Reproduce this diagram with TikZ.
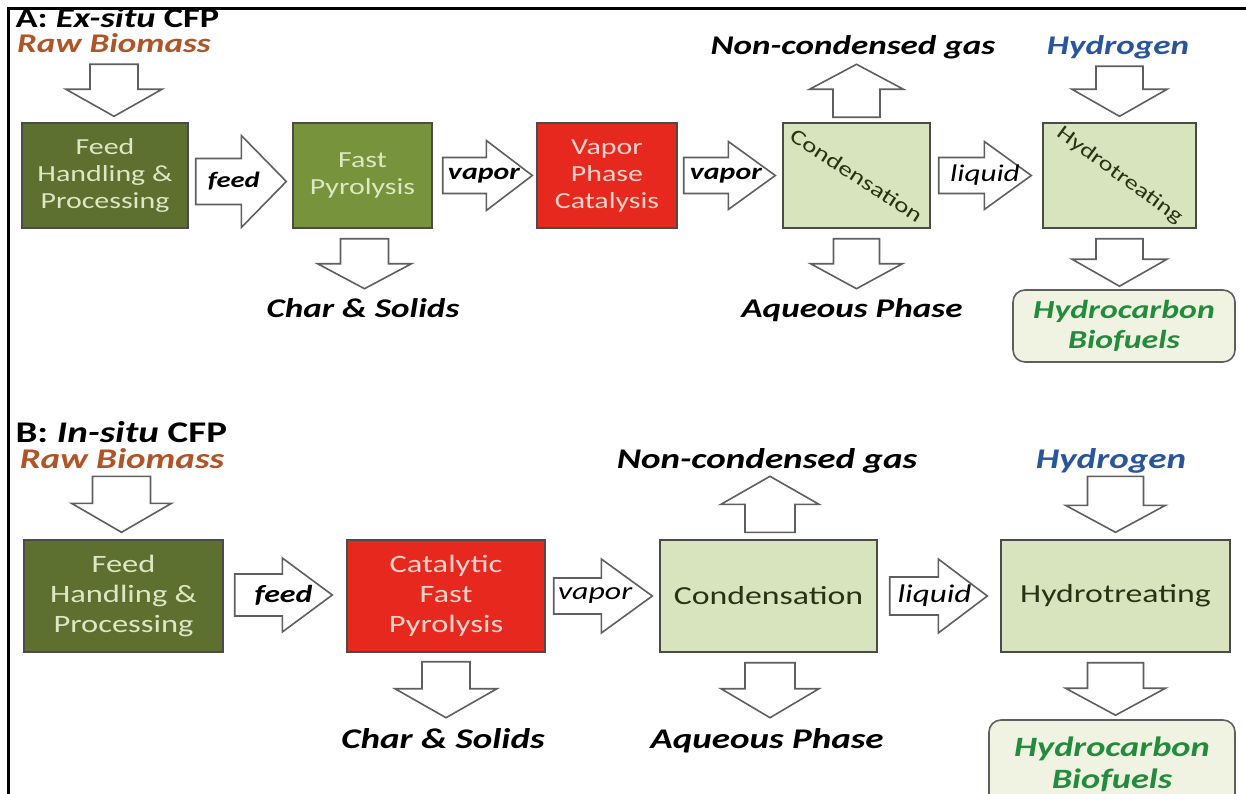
\documentclass[tikz,border=0pt]{standalone}
\usepackage{fontspec}
\setmainfont{Carlito}[FakeStretch=1.3]
\usetikzlibrary{calc}
\definecolor{darkolive}{RGB}{94,112,48}
\definecolor{midolive}{RGB}{119,147,60}
\definecolor{redbox}{RGB}{230,40,30}
\definecolor{lightgreen}{RGB}{215,228,189}
\definecolor{txtlight}{RGB}{220,232,196}
\definecolor{txtpink}{RGB}{250,212,202}
\definecolor{txtdark}{RGB}{40,50,20}
\definecolor{brownlbl}{RGB}{175,85,40}
\definecolor{bluelbl}{RGB}{40,85,155}
\definecolor{greenlbl}{RGB}{35,140,60}
\definecolor{hcfill}{RGB}{240,243,226}
\definecolor{boxline}{RGB}{75,75,75}
\definecolor{arrline}{RGB}{95,95,95}
\newcommand\blkarrow[5]{% tail, tip, shaft half, head half, head length
  \coordinate (hb) at ($(#2)!#5pt!(#1)$);
  \draw[blockarrow] ($(#1)!#3pt!90:(#2)$) -- ($(hb)!#3pt!90:(#2)$) -- ($(hb)!#4pt!90:(#2)$)
    -- (#2) -- ($(hb)!#4pt!-90:(#2)$) -- ($(hb)!#3pt!-90:(#2)$) -- ($(#1)!#3pt!-90:(#2)$) -- cycle;}
\begin{document}
\begin{tikzpicture}[x=1pt,y=-1pt,
  box/.style={draw=boxline, line width=1.4pt, inner sep=0pt, align=center},
  blockarrow/.style={draw=arrline, fill=white, line width=1.6pt, line join=miter},
  fA/.style={font=\fontsize{23}{27}\selectfont},
  fB/.style={font=\fontsize{25}{30}\selectfont},
  lblA/.style={anchor=base, font=\fontsize{27}{30}\selectfont\bfseries\itshape},
  lblB/.style={anchor=base, font=\fontsize{28.5}{32}\selectfont\bfseries\itshape},
  ttl/.style={anchor=base west, font=\bfseries},
  hcbox/.style={draw=arrline, line width=1.6pt, fill=hcfill, rounded corners=12pt, inner sep=0pt, align=center, text=greenlbl}
]
\useasboundingbox (0,0) rectangle (1246,794);
\clip (0,0) rectangle (1246,794);
\fill[white] (0,0) rectangle (1246,794);
\draw[line width=2.5pt] (8.5,794) -- (8.5,8.5) -- (1246,8.5);

% ---------------- Panel A ----------------
\node[ttl, font=\fontsize{28}{32}\selectfont\bfseries] (titleA) at (12,28) {A: \textit{Ex-situ} CFP};
\node[lblA, text=brownlbl] (rawA) at (114,53) {Raw Biomass};
\node[lblA] (ncgA) at (853,55) {Non-condensed gas};
\node[lblA, text=bluelbl] (h2A) at (1118,55) {Hydrogen};
\node[lblA] (charA) at (363,317) {Char \& Solids};
\node[lblA] (aqA) at (852,317) {Aqueous Phase};

\node[box, fA, fill=darkolive, text=txtlight, minimum width=166pt, minimum height=105pt] (feedA) at (105,175.5) {Feed\\Handling \&\\Processing};
\node[box, fA, fill=midolive, text=txtlight, minimum width=139pt, minimum height=105pt] (fpA) at (362.5,175.5) {Fast\\Pyrolysis};
\node[box, fA, fill=redbox, text=txtpink, minimum width=140pt, minimum height=105pt] (vpcA) at (607,175.5) {Vapor\\Phase\\Catalysis};
\node[box, font=\fontsize{21}{25}\selectfont, fill=lightgreen, text=txtdark, minimum width=147pt, minimum height=105pt] (condA) at (856.5,175.5) {\rotatebox{-33}{Condensation}};
\node[box, font=\fontsize{20.5}{25}\selectfont, fill=lightgreen, text=txtdark, minimum width=153pt, minimum height=105pt] (htA) at (1119.5,175.5) {\rotatebox{-36}{Hydrotreating}};
\node[hcbox, font=\fontsize{26}{30}\selectfont\bfseries\itshape, minimum width=222pt, minimum height=72pt] (hcA) at (1124,326) {\raisebox{-3pt}{Hydrocarbon}\\\raisebox{-3pt}{Biofuels}};

% horizontal arrows A
\coordinate (t) at ($(feedA.east)+(7,6)$); \coordinate (e) at ($(fpA.west)+(-6,6)$);
\blkarrow{t}{e}{23}{46}{45}
\node[font=\fontsize{22}{26}\selectfont\bfseries\itshape] (feedlA) at ($(t)!0.42!(e)$) {feed};
\coordinate (t) at ($(fpA.east)+(10,0)$); \coordinate (e) at ($(vpcA.west)+(-4,0)$);
\blkarrow{t}{e}{18}{35}{46}
\node[font=\fontsize{23}{26}\selectfont\bfseries\itshape] (vap1A) at ($(t)!0.46!(e)$) {vapor};
\coordinate (t) at ($(vpcA.east)+(6,0)$); \coordinate (e) at ($(condA.west)+(-7,0)$);
\blkarrow{t}{e}{18}{34}{47}
\node[font=\fontsize{23}{26}\selectfont\bfseries\itshape] (vap2A) at ($(t)!0.46!(e)$) {vapor};
\coordinate (t) at ($(condA.east)+(8,0)$); \coordinate (e) at ($(htA.west)+(-11,0)$);
\blkarrow{t}{e}{18}{34}{47}
\node[font=\fontsize{24}{26}\selectfont\itshape] (liqA) at ($(t)!0.5!(e)$) {liquid};

% vertical arrows A
\coordinate (e) at ($(feedA.north)+(9,-6)$); \coordinate (t) at ($(e)+(0,-52)$);
\blkarrow{t}{e}{24}{48}{27}
\coordinate (t) at ($(fpA.south)+(2,10)$); \coordinate (e) at ($(t)+(0,50)$);
\blkarrow{t}{e}{24}{47}{25}
\coordinate (t) at ($(condA.north)+(0,-5)$); \coordinate (e) at ($(condA.north)+(0,-58)$);
\blkarrow{t}{e}{23.5}{47}{25}
\coordinate (t) at ($(condA.south)+(0,10)$); \coordinate (e) at ($(t)+(0,50)$);
\blkarrow{t}{e}{23}{46}{25}
\coordinate (e) at ($(htA.north)+(0,-6)$); \coordinate (t) at ($(e)+(0,-50)$);
\blkarrow{t}{e}{23.5}{47.5}{27}
\coordinate (t) at ($(htA.south)+(0,10)$); \coordinate (e) at ($(t |- hcA.north)+(0,-3)$);
\blkarrow{t}{e}{23.5}{47.5}{27}

% ---------------- Panel B ----------------
\node[ttl, font=\fontsize{30}{34}\selectfont\bfseries] (titleB) at (12,442) {B: \textit{In-situ} CFP};
\node[lblB, text=brownlbl] (rawB) at (122,468) {Raw Biomass};
\node[lblB] (ncgB) at (767,468) {Non-condensed gas};
\node[lblB, text=bluelbl] (h2B) at (1111,468) {Hydrogen};
\node[lblB] (charB) at (443,748) {Char \& Solids};
\node[lblB] (aqB) at (767,748) {Aqueous Phase};

\node[box, fB, fill=darkolive, text=txtlight, minimum width=199pt, minimum height=112pt] (feedB) at (123.5,596) {Feed\\Handling \&\\Processing};
\node[box, fB, fill=redbox, text=txtpink, minimum width=198pt, minimum height=112pt] (cfpB) at (446,596) {Catalytic\\Fast\\Pyrolysis};
\node[box, font=\fontsize{26}{30}\selectfont, fill=lightgreen, text=txtdark, minimum width=217pt, minimum height=112pt] (condB) at (768.5,596) {Condensation};
\node[box, font=\fontsize{26}{30}\selectfont, fill=lightgreen, text=txtdark, minimum width=229pt, minimum height=112pt] (htB) at (1115.5,596) {Hydrotreating};
\node[hcbox, font=\fontsize{28}{32}\selectfont\bfseries\itshape, minimum width=246pt, minimum height=88pt] (hcB) at (1112,764) {Hydrocarbon\\Biofuels};

% horizontal arrows B
\coordinate (t) at ($(feedB.east)+(11,-1)$); \coordinate (e) at ($(cfpB.west)+(-14,-1)$);
\blkarrow{t}{e}{21}{37}{50}
\node[font=\fontsize{24.5}{27}\selectfont\bfseries\itshape] (feedlB) at ($(t)!0.5!(e)$) {feed};
\coordinate (t) at ($(cfpB.east)+(8,0)$); \coordinate (e) at ($(condB.west)+(-7,0)$);
\blkarrow{t}{e}{18}{37}{51}
\node[font=\fontsize{24.5}{27}\selectfont\itshape] (vapB) at ($(t)!0.42!(e)$) {vapor};
\coordinate (t) at ($(condB.east)+(12,0)$); \coordinate (e) at ($(htB.west)+(-13,0)$);
\blkarrow{t}{e}{19}{37}{49}
\node[font=\fontsize{25.5}{27}\selectfont\itshape] (liqB) at ($(t)!0.46!(e)$) {liquid};

% vertical arrows B
\coordinate (e) at ($(feedB.north)+(-2,-7)$); \coordinate (t) at ($(e)+(0,-56)$);
\blkarrow{t}{e}{29}{50}{29}
\coordinate (t) at ($(cfpB.south)+(0,9)$); \coordinate (e) at ($(t)+(0,56)$);
\blkarrow{t}{e}{24}{51}{29}
\coordinate (t) at ($(condB.north)+(1.5,-7)$); \coordinate (e) at ($(t)+(0,-56)$);
\blkarrow{t}{e}{25}{49}{28}
\coordinate (t) at ($(condB.south)+(1.5,10)$); \coordinate (e) at ($(t)+(0,55)$);
\blkarrow{t}{e}{25}{49}{29}
\coordinate (e) at ($(htB.north)+(0,-7)$); \coordinate (t) at ($(e)+(0,-56)$);
\blkarrow{t}{e}{28}{50}{27}
\coordinate (t) at ($(htB.south)+(0,10)$); \coordinate (e) at ($(t |- hcB.north)+(0,-4)$);
\blkarrow{t}{e}{28}{50}{27}
\end{tikzpicture}
\end{document}
